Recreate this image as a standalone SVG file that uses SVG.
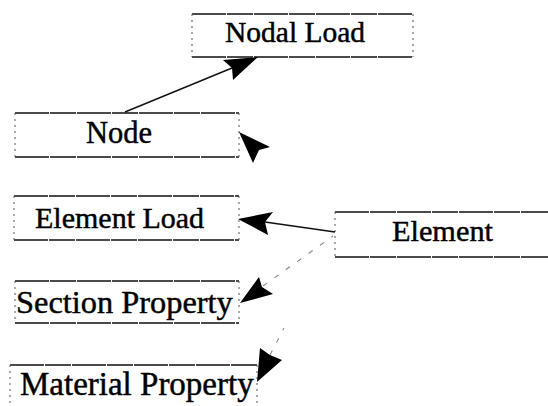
<svg xmlns="http://www.w3.org/2000/svg" width="548" height="406" viewBox="0 0 548 406">
<style>
  .hl { stroke:#111; stroke-width:1.6; stroke-dasharray:34 1 26 1; fill:none; }
  .vl { stroke:#666; stroke-width:1.1; stroke-dasharray:2 4; fill:none; }
  .lbl { font-family:"Liberation Serif","Times New Roman",serif; fill:#000; stroke:#000; stroke-width:0.45; }
  .conn { stroke:#111; stroke-width:1.4; fill:none; }
  .dash { stroke:#888; stroke-width:1.1; stroke-dasharray:5 9; fill:none; }
  .head { fill:#000; stroke:none; }
</style>
<rect width="548" height="406" fill="#fff"/>
<g id="nodal-load">
  <line class="hl" x1="192" y1="14" x2="413" y2="14"/>
  <line class="hl" x1="192" y1="57" x2="413" y2="57"/>
  <line class="vl" x1="192" y1="14" x2="192" y2="57"/>
  <line class="vl" x1="413" y1="14" x2="413" y2="57"/>
  <text class="lbl" x="225" y="42" font-size="29.5">Nodal Load</text>
</g>
<g id="node">
  <line class="hl" x1="15" y1="113" x2="239" y2="113"/>
  <line class="hl" x1="15" y1="157" x2="239" y2="157"/>
  <line class="vl" x1="15" y1="113" x2="15" y2="157"/>
  <line class="vl" x1="239" y1="113" x2="239" y2="157"/>
  <text class="lbl" x="86" y="143" font-size="30.5">Node</text>
</g>
<g id="element-load">
  <line class="hl" x1="14" y1="196" x2="239" y2="196"/>
  <line class="hl" x1="14" y1="240" x2="239" y2="240"/>
  <line class="vl" x1="14" y1="196" x2="14" y2="240"/>
  <line class="vl" x1="239" y1="196" x2="239" y2="240"/>
  <text class="lbl" x="35" y="228" font-size="30">Element Load</text>
</g>
<g id="element">
  <line class="hl" x1="335" y1="212" x2="548" y2="212"/>
  <line class="hl" x1="335" y1="257" x2="548" y2="257"/>
  <line class="vl" x1="335" y1="212" x2="335" y2="257"/>
  <text class="lbl" x="392" y="241" font-size="30.3">Element</text>
</g>
<g id="section-property">
  <line class="hl" x1="15" y1="281" x2="239" y2="281"/>
  <line class="hl" x1="15" y1="323" x2="239" y2="323"/>
  <line class="vl" x1="15" y1="281" x2="15" y2="323"/>
  <line class="vl" x1="239" y1="281" x2="239" y2="323"/>
  <text class="lbl" x="16" y="313" font-size="32.4">Section Property</text>
</g>
<g id="material-property">
  <line class="hl" x1="10" y1="365" x2="257" y2="365"/>
  <line class="vl" x1="10" y1="365" x2="10" y2="406"/>
  <line class="vl" x1="257" y1="365" x2="257" y2="406"/>
  <text class="lbl" x="20" y="395" font-size="33">Material Property</text>
</g>
<g id="connectors">
  <line class="conn" x1="125" y1="112" x2="232" y2="68"/>
  <polygon class="head" points="258,57 223,60 232,68 233,80"/>
  <polygon class="head" points="239,132 270,147 259,150 253,163"/>
  <line class="conn" x1="335" y1="232" x2="265" y2="222"/>
  <polygon class="head" points="238,219 273,212 265,222 268,235"/>
  <line class="dash" x1="263" y1="286" x2="333" y2="236"/>
  <polygon class="head" points="240,303 259,277 262,287 273,294"/>
  <line class="dash" x1="270" y1="355" x2="284" y2="328"/>
  <polygon class="head" points="257,382 260,348 270,355 282,360"/>
</g>
</svg>
